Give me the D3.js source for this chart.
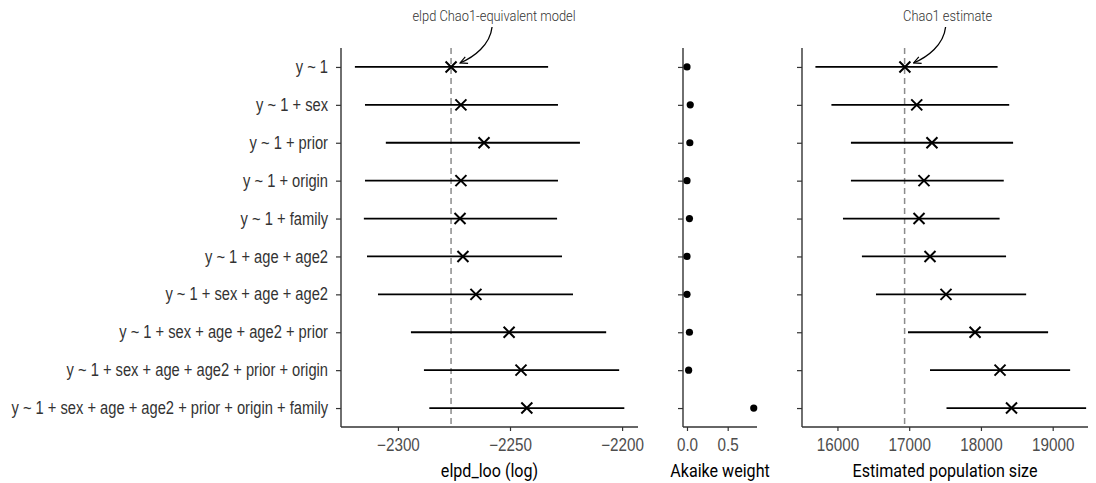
<!DOCTYPE html>
<html>
<head>
<meta charset="utf-8">
<script src="https://cdn.jsdelivr.net/npm/d3@7"></script>
<style>
  body { margin: 0; background: #fff; }
  svg { display: block; font-family: Roboto, "Noto Sans", sans-serif; }
</style>
</head>
<body>
<svg id="chart" width="1096" height="483"></svg>
<script>
// ----- DATA -----
var models = [
    "y ~ 1",
    "y ~ 1 + sex",
    "y ~ 1 + prior",
    "y ~ 1 + origin",
    "y ~ 1 + family",
    "y ~ 1 + age + age2",
    "y ~ 1 + sex + age + age2",
    "y ~ 1 + sex + age + age2 + prior",
    "y ~ 1 + sex + age + age2 + prior + origin",
    "y ~ 1 + sex + age + age2 + prior + origin + family"
];
var elpd    = [-2276.3, -2271.9, -2261.6, -2271.9, -2272.3, -2271.0, -2265.2, -2250.4, -2245.1, -2242.5];
var elpdLow = [-2319.2, -2314.7, -2305.4, -2314.7, -2315.2, -2313.8, -2308.9, -2294.2, -2288.4, -2286.0];
var elpdHigh= [-2233.0, -2228.6, -2218.8, -2228.6, -2229.0, -2226.8, -2221.9, -2207.1, -2201.3, -2199.0];
var weights = [0.0, 0.04, 0.035, 0.0, 0.03, 0.0, 0.0, 0.03, 0.02, 0.82];
var popSize = [16940, 17105, 17317, 17206, 17137, 17290, 17513, 17918, 18266, 18426];
var popLow  = [15693, 15916, 16188, 16188, 16077, 16341, 16537, 16983, 17290, 17520];
var popHigh = [18232, 18394, 18448, 18318, 18260, 18350, 18630, 18936, 19243, 19466];
var elpdTicks = [-2300, -2250, -2200];
var weightTicks = [0, 0.5];
var popTicks = [16000, 17000, 18000, 19000];
var chao1Elpd = -2276.3;
var chao1N = 16936;

// ----- LAYOUT -----
var svg = d3.select("#chart");
var yTop = 48, yBottom = 427;
var K = 0.84; // horizontal squeeze to mimic a condensed face

function condense(sel, k) {
    sel.each(function() {
        var t = d3.select(this);
        var x = +t.attr("x") || 0;
        t.attr("x", x / k).attr("transform", "scale(" + k + ",1)");
    });
}

var y = d3.scalePoint().domain(d3.range(models.length)).range([yTop, yBottom]).padding(0.5);

var panels = [
    {x0: 341, x1: 638, domain: [-2325.4, -2192.9], ticks: elpdTicks, fmt: d3.format(""), title: "elpd_loo (log)"},
    {x0: 683, x1: 757, domain: [-0.049, 0.86], ticks: weightTicks, fmt: d3.format(".1f"), title: "Akaike weight"},
    {x0: 802, x1: 1088, domain: [15506, 19492], ticks: popTicks, fmt: d3.format(""), title: "Estimated population size"}
];
panels.forEach(function(p) {
    p.scale = d3.scaleLinear().domain(p.domain).range([p.x0, p.x1]);
});

var defs = svg.append("defs");
defs.append("marker")
    .attr("id", "arrow")
    .attr("viewBox", "0 0 10 10")
    .attr("refX", 9).attr("refY", 5)
    .attr("markerWidth", 9).attr("markerHeight", 9)
    .attr("markerUnits", "userSpaceOnUse")
    .attr("orient", "auto")
    .append("path")
    .attr("d", "M 1 1 L 9 5 L 1 9")
    .attr("fill", "none")
    .attr("stroke", "#000")
    .attr("stroke-width", 1.3);

// ----- AXES -----
panels.forEach(function(p, i) {
    var g = svg.append("g");
    // left spine with ticks
    var ya = g.append("g")
        .attr("transform", "translate(" + p.x0 + ",0)")
        .call(d3.axisLeft(y).tickSize(5).tickSizeOuter(0).tickPadding(8)
            .tickFormat(function(d) { return i == 0 ? models[d] : ""; }));
    ya.select(".domain").attr("d", "M0," + yTop + "V" + yBottom).attr("stroke", "#333").attr("stroke-width", 1.4);
    ya.selectAll(".tick line").attr("stroke", "#333").attr("stroke-width", 1.2);
    ya.selectAll("text").attr("font-size", 17.5).attr("font-weight", 300).attr("fill", "#333");
    condense(ya.selectAll("text"), K);

    var xa = g.append("g")
        .attr("transform", "translate(0," + yBottom + ")")
        .call(d3.axisBottom(p.scale).tickValues(p.ticks).tickFormat(p.fmt).tickSize(4).tickSizeOuter(0).tickPadding(8));
    xa.select(".domain").attr("d", "M" + p.x0 + ",0H" + p.x1).attr("stroke", "#333").attr("stroke-width", 1.4);
    xa.selectAll(".tick line").attr("stroke", "#333").attr("stroke-width", 1.2);
    xa.selectAll("text").attr("font-size", 17.5).attr("font-weight", 300).attr("fill", "#4d4d4d")
        .text(function(d) { return p.fmt(d).replace("-", "\u2212"); });
    condense(xa.selectAll("text"), 0.87);

    g.append("g")
        .attr("transform", "translate(" + ((p.x0 + p.x1) / 2) + ",477)")
        .append("text")
        .attr("text-anchor", "middle")
        .attr("font-size", 18.5)
        .attr("fill", "#000")
        .attr("transform", "scale(0.87,1)")
        .text(p.title);
});

// ----- MARKS -----
function crosses(g, xs, scale) {
    var s = 5.5;
    g.selectAll("path.cross").data(xs).enter().append("path")
        .attr("class", "cross")
        .attr("d", function(d, i) {
            var cx = scale(d), cy = y(i);
            return "M" + (cx - s) + "," + (cy - s) + "L" + (cx + s) + "," + (cy + s) +
                   "M" + (cx - s) + "," + (cy + s) + "L" + (cx + s) + "," + (cy - s);
        })
        .attr("stroke", "#000")
        .attr("stroke-width", 2);
}

function intervals(g, lows, highs, scale) {
    g.selectAll("line.ci").data(lows).enter().append("line")
        .attr("class", "ci")
        .attr("x1", function(d) { return scale(d); })
        .attr("x2", function(d, i) { return scale(highs[i]); })
        .attr("y1", function(d, i) { return y(i); })
        .attr("y2", function(d, i) { return y(i); })
        .attr("stroke", "#000")
        .attr("stroke-width", 1.8);
}

function refLine(g, v, scale) {
    g.append("line")
        .attr("x1", scale(v)).attr("x2", scale(v))
        .attr("y1", yTop).attr("y2", yBottom)
        .attr("stroke", "#8c8c8c")
        .attr("stroke-width", 1.5)
        .attr("stroke-dasharray", "6,4");
}

function annotate(v, scale, label) {
    var ex = scale(v) + 9, ey = y(0) - 4;
    var sx = ex + 32, sy = 27;
    svg.append("path")
        .attr("d", "M" + sx + "," + sy + " C" + (sx - 2) + "," + (sy + 18) + " " + (ex + 14) + "," + (ey - 6) + " " + ex + "," + ey)
        .attr("fill", "none")
        .attr("stroke", "#000")
        .attr("stroke-width", 1.3)
        .attr("marker-end", "url(#arrow)");
    svg.append("g")
        .attr("transform", "translate(" + (sx + 2) + ",21)")
        .append("text")
        .attr("text-anchor", "middle")
        .attr("font-size", 15.5)
        .attr("font-weight", 300)
        .attr("fill", "#333")
        .attr("transform", "scale(0.83,1)")
        .text(label);
}

var p1 = svg.append("g");
refLine(p1, chao1Elpd, panels[0].scale);
intervals(p1, elpdLow, elpdHigh, panels[0].scale);
crosses(p1, elpd, panels[0].scale);

var p2 = svg.append("g");
p2.selectAll("circle").data(weights).enter().append("circle")
    .attr("cx", function(d) { return panels[1].scale(d); })
    .attr("cy", function(d, i) { return y(i); })
    .attr("r", 3.6)
    .attr("fill", "#000");

var p3 = svg.append("g");
refLine(p3, chao1N, panels[2].scale);
intervals(p3, popLow, popHigh, panels[2].scale);
crosses(p3, popSize, panels[2].scale);

annotate(chao1Elpd, panels[0].scale, "elpd Chao1-equivalent model");
annotate(chao1N, panels[2].scale, "Chao1 estimate");
</script>
</body>
</html>
